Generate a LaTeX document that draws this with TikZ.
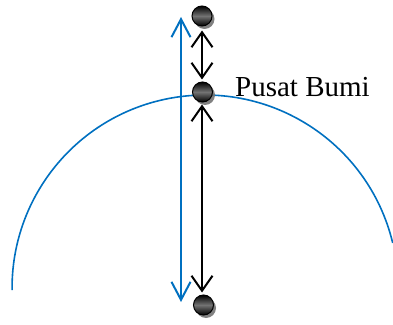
\documentclass[tikz,border=0pt]{standalone}
\usepackage{fontspec}
\setmainfont{Liberation Serif}
\usetikzlibrary{arrows.meta,shadows,backgrounds}
\definecolor{earthblue}{RGB}{0,112,192}
\tikzset{
  ballnode/.style={circle,minimum size=20pt,inner sep=0pt,draw=black,line width=1pt,
    top color=black,bottom color=black,middle color=black!55,
    drop shadow={shadow xshift=2.5pt,shadow yshift=-3pt,fill=black!55,opacity=0.9}},
  blackarrow/.style={line width=2pt,{Straight Barb[length=15pt,width=21pt]}-{Straight Barb[length=15pt,width=21pt]}},
  bluearrow/.style={draw=earthblue,line width=2pt,{Straight Barb[length=18pt,width=19pt]}-{Straight Barb[length=18pt,width=19pt]}},
  earth/.style={draw=earthblue,line width=1.6pt},
  labeltext/.style={font=\fontsize{29}{34}\selectfont,inner sep=0pt,anchor=base west}
}
\begin{document}
\begin{tikzpicture}[x=1pt,y=1pt]
\useasboundingbox (0,0) rectangle (393,324);
\node[ballnode] (t) at (202,308) {};
\node[ballnode] (m) at (202.5,232) {};
\node[ballnode] (b) at (203.5,19) {};
\node[labeltext] (lbl) at (235,227) {Pusat Bumi};
\coordinate (bt) at (181,307);
\coordinate (bb) at (181,22);
\begin{scope}[on background layer]
  \draw[earth] (392.7,81) arc[start angle=13.5,end angle=180.6,radius=193];
  \draw[bluearrow] (bb) -- (bt);
  \draw[blackarrow] ([yshift=-4pt]t.south) -- ([yshift=2pt]t.south |- m.north);
  \draw[blackarrow] ([yshift=-2pt]t.south |- m.south) -- ([yshift=2pt]t.south |- b.north);
\end{scope}
\end{tikzpicture}
\end{document}
